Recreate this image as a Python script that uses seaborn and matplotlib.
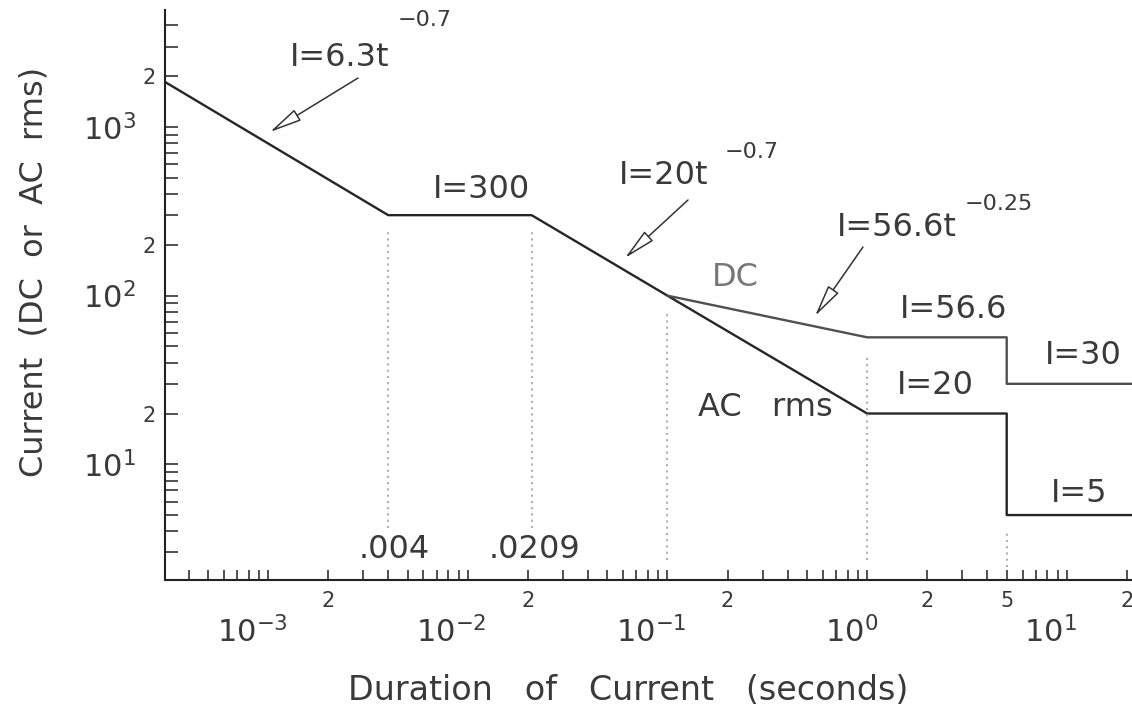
#!/usr/bin/env python
# current vs duration limit curves (log-log), DC and AC rms
import numpy as np
import pandas as pd
import seaborn as sns
import matplotlib.pyplot as plt
from matplotlib.ticker import FixedLocator, FixedFormatter
from matplotlib.transforms import ScaledTranslation

# breakpoints of the AC rms curve (seconds, amperes)
ac_t = [3.05e-4, 0.004, 0.0209, 0.1, 1.0, 5.0, 5.0, 22.0]
ac_i = [1850, 300, 300, 100, 20, 20, 5, 5]

# DC branch leaves the AC curve at 0.1 s
dc_t = [0.1, 1.0, 5.0, 5.0, 22.0]
dc_i = [100, 56.6, 56.6, 30, 30]

# dotted guides under the breakpoints
guide_t = [0.004, 0.0209, 0.1, 1.0, 5.0]
guide_top = [300, 300, 100, 56.6, 5]
guide_bottom = [4.2, 4.2, 2.7, 2.7, 2.45]

x_major = [1e-3, 1e-2, 1e-1, 1e0, 1e1]
x_major_labels = ['$10^{-3}$', '$10^{-2}$', '$10^{-1}$', '$10^{0}$', '$10^{1}$']
y_major = [1e1, 1e2, 1e3]
y_major_labels = ['$10^{1}$', '$10^{2}$', '$10^{3}$']

W, H = 1132, 712
AX_L, AX_R, AX_T, AX_B = 165, 1132, 10, 580
TXT = '#3a3a3a'


def minor_ticks(lo_exp, hi_exp, upto):
    ticks = []
    for e in range(lo_exp, hi_exp + 1):
        for m in range(2, 10):
            v = m * 10.0 ** e
            if v <= upto:
                ticks.append(v)
    return ticks


def px(x, y):
    # image pixel -> axes fraction
    return ((x - AX_L) / (AX_R - AX_L), (AX_B - y) / (AX_B - AX_T))


def main():
    sns.set_theme(style='white')
    plt.rcParams['font.family'] = ['DejaVu Sans']
    plt.rcParams['mathtext.fontset'] = 'dejavusans'

    fig = plt.figure(figsize=(W / 100, H / 100), dpi=100)
    ax = fig.add_axes([AX_L / W, (H - AX_B) / H, (AX_R - AX_L) / W, (AX_B - AX_T) / H])

    sns.lineplot(x=ac_t, y=ac_i, sort=False, estimator=None, color='#262626', lw=1.7, ax=ax)
    sns.lineplot(x=dc_t, y=dc_i, sort=False, estimator=None, color='#505050', lw=1.7, ax=ax)

    tops = [v / 1.25 for v in guide_top]
    ax.vlines(guide_t, guide_bottom, tops, colors='#b0b0b0', linestyles=(0, (1, 2)), lw=1.5)

    ax.set_xscale('log')
    ax.set_yscale('log')
    ax.set_xlim(3.05e-4, 21.2)
    ax.set_ylim(2.06, 4940)

    # ticks
    xminor = minor_ticks(-4, 1, 21)
    xminor_lab = []
    for v in xminor:
        m = round(v / 10 ** np.floor(np.log10(v) + 1e-9))
        if m == 2 or (m == 5 and 1 < v < 10):
            xminor_lab.append(str(m))
        else:
            xminor_lab.append('')
    yminor = minor_ticks(0, 3, 4940)
    yminor_lab = ['2' if round(v / 10 ** np.floor(np.log10(v) + 1e-9)) == 2 else '' for v in yminor]

    ax.xaxis.set_major_locator(FixedLocator(x_major))
    ax.xaxis.set_major_formatter(FixedFormatter(x_major_labels))
    ax.xaxis.set_minor_locator(FixedLocator(xminor))
    ax.xaxis.set_minor_formatter(FixedFormatter(xminor_lab))
    ax.yaxis.set_major_locator(FixedLocator(y_major))
    ax.yaxis.set_major_formatter(FixedFormatter(y_major_labels))
    ax.yaxis.set_minor_locator(FixedLocator(yminor))
    ax.yaxis.set_minor_formatter(FixedFormatter(yminor_lab))

    ax.tick_params(axis='x', which='both', direction='in', length=7.2, width=1.1,
                   color='#222222', labelcolor=TXT, bottom=True)
    ax.tick_params(axis='y', which='both', direction='in', length=9.5, width=1.1,
                   color='#222222', labelcolor=TXT, left=True)
    ax.tick_params(axis='x', which='major', pad=26, labelsize=22)
    ax.tick_params(axis='x', which='minor', pad=8, labelsize=15)
    ax.tick_params(axis='y', which='major', pad=21, labelsize=22)
    ax.tick_params(axis='y', which='minor', pad=7, labelsize=15)

    for s in ['top', 'right']:
        ax.spines[s].set_visible(False)
    for s in ['left', 'bottom']:
        ax.spines[s].set_color('#222222')
        ax.spines[s].set_linewidth(1.5)
    ax.grid(False)

    shift = ScaledTranslation(-16 / 100, 0, fig.dpi_scale_trans)
    for lab in ax.get_xticklabels(which='major'):
        lab.set_transform(lab.get_transform() + shift)

    ax.set_xlabel('Duration   of   Current   (seconds)', fontsize=24, color=TXT,
                  va='center', ha='center')
    ax.set_ylabel('Current  (DC  or  AC  rms)', fontsize=23, color=TXT,
                  va='center', ha='center')
    ax.xaxis.set_label_coords(*px(628, 690), transform=ax.transAxes)
    ax.yaxis.set_label_coords(*px(34, 272), transform=ax.transAxes)

    # curve annotations
    labels = [
        ('I=6.3t', 340, 58, 'center', TXT),
        ('I=300', 481, 190, 'center', TXT),
        ('I=20t', 664, 175, 'center', TXT),
        ('I=56.6t', 897, 227, 'center', TXT),
        ('DC', 735, 277, 'center', '#777777'),
        ('I=56.6', 954, 310, 'center', TXT),
        ('I=30', 1045, 356, 'left', TXT),
        ('I=20', 935, 385, 'center', TXT),
        ('AC   rms', 765, 408, 'center', TXT),
        ('I=5', 1079, 493, 'center', TXT),
        ('.004', 394, 549, 'center', TXT),
        ('.0209', 534, 549, 'center', TXT),
    ]
    for txt, x, y, ha, c in labels:
        ax.text(*px(x, y), txt, transform=ax.transAxes, fontsize=23, ha=ha, va='center',
                color=c, clip_on=False)

    exps = [('\u22120.7', 398, 20), ('\u22120.7', 725, 152), ('\u22120.25', 965, 204)]
    for txt, x, y in exps:
        ax.text(*px(x, y), txt, transform=ax.transAxes, fontsize=16, ha='left', va='center',
                color=TXT, clip_on=False)

    arrows = [((358, 78), (270, 132)), ((688, 200), (625, 258)), ((863, 247), (815, 316))]
    for tail, tip in arrows:
        ax.annotate('', xy=px(*tip), xycoords='axes fraction',
                    xytext=px(*tail), textcoords='axes fraction',
                    arrowprops=dict(arrowstyle='-|>,head_length=1.0,head_width=0.2',
                                    fc='white', ec='#333333', lw=1.1,
                                    mutation_scale=20, shrinkA=0, shrinkB=0))

    fig.savefig('out.png', dpi=100)
    print('saved out.png')


if __name__ == '__main__':
    main()
